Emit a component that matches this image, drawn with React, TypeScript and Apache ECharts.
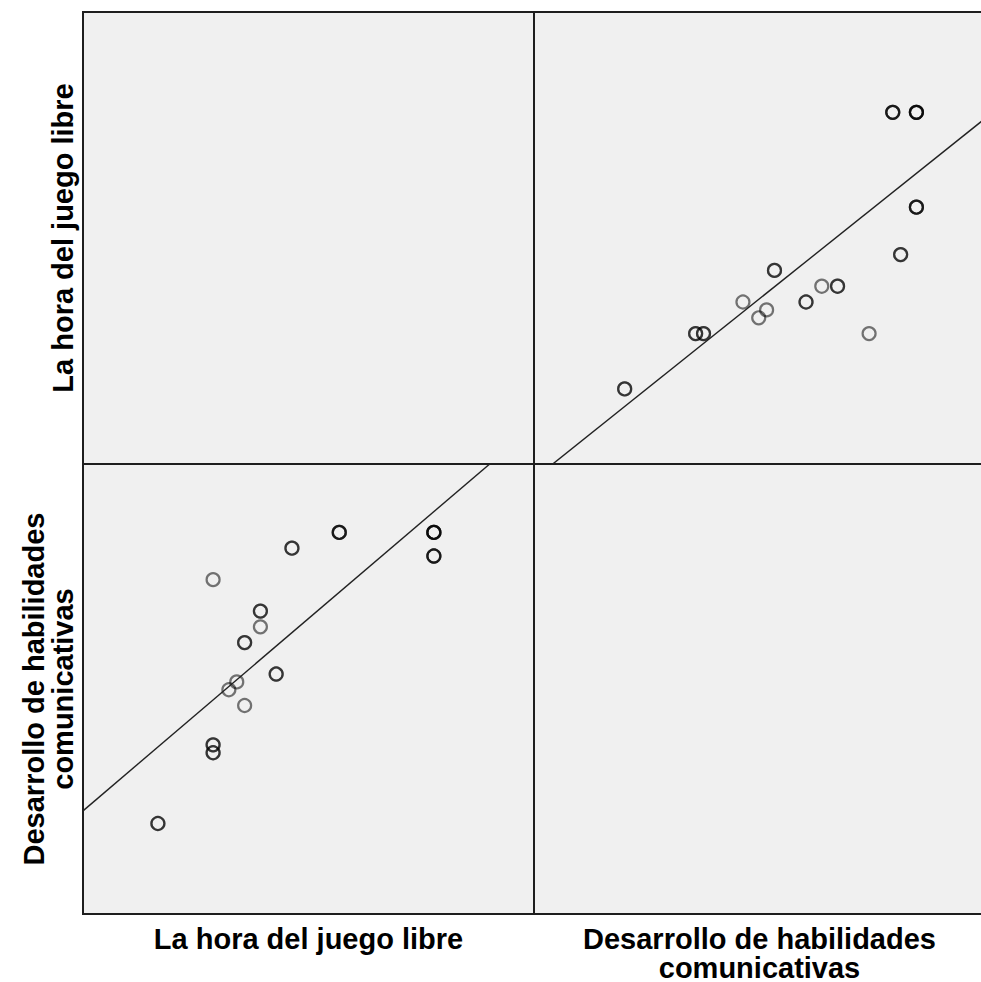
import React, { useEffect, useRef } from "react";
import * as echarts from "echarts";

// Variable names (axis titles)
const varLaHora = "La hora del juego libre";
const varDesarrollo = "Desarrollo de habilidades\ncomunicativas";

// Cases (paired values); darker circles in the picture are repeated cases
const laHora = [20, 20, 27, 27, 27, 27, 27, 31, 31, 33, 33, 33, 29, 30, 31, 35, 35, 37, 37, 43, 43, 43, 55, 55, 55, 55, 55, 55, 55];
const desarrollo = [20, 20, 30, 30, 29, 29, 51, 43, 43, 47, 47, 45, 37, 38, 35, 39, 39, 55, 55, 57, 57, 57, 57, 57, 57, 57, 54, 54, 54];

// Axis ranges
const laHoraRange = [10.5, 67.7];
const desarrolloRange = [8.5, 65.7];

function ols(x: number[], y: number[]) {
  const n = x.length;
  const mx = x.reduce((a, b) => a + b, 0) / n;
  const my = y.reduce((a, b) => a + b, 0) / n;
  let sxy = 0;
  let sxx = 0;
  for (let i = 0; i < n; i++) {
    sxy += (x[i] - mx) * (y[i] - my);
    sxx += (x[i] - mx) * (x[i] - mx);
  }
  const b = sxy / sxx;
  return { a: my - b * mx, b };
}

export default function App() {
  const ref = useRef<HTMLDivElement>(null);
  useEffect(() => {
    if (!ref.current) return;
    const chart = echarts.init(ref.current, undefined, { renderer: "svg" });

    const fitDonL = ols(laHora, desarrollo);
    const fitLonD = ols(desarrollo, laHora);
    const lineBL = [laHoraRange[0], laHoraRange[1]].map((v) => [v, fitDonL.a + fitDonL.b * v]);
    const lineTR = [desarrolloRange[0], desarrolloRange[1]].map((v) => [v, fitLonD.a + fitLonD.b * v]);

    const gridStyle = {
      show: true,
      backgroundColor: "#f0f0f0",
      borderColor: "#1e1e1e",
      borderWidth: 2,
      containLabel: false,
      outerBoundsMode: "none",
    };
    const font = {
      fontFamily: "Liberation Sans, Arial, sans-serif",
      fontWeight: "bold" as const,
      fontSize: 29,
      color: "#000",
      lineHeight: 29,
    };
    const hidden = {
      axisLine: { show: false },
      axisTick: { show: false },
      axisLabel: { show: false },
      splitLine: { show: false },
    };
    const xAx = (idx: number, range: number[], name?: string) => ({
      type: "value" as const,
      gridIndex: idx,
      min: range[0],
      max: range[1],
      name: name,
      nameLocation: "middle" as const,
      nameGap: 10,
      nameTextStyle: font,
      ...hidden,
    });
    const yAx = (idx: number, range: number[], name?: string) => ({
      type: "value" as const,
      gridIndex: idx,
      min: range[0],
      max: range[1],
      name: name,
      nameLocation: "middle" as const,
      nameRotate: 90,
      nameGap: 6,
      nameTextStyle: font,
      ...hidden,
    });

    const scatterStyle = {
      type: "scatter" as const,
      symbol: "circle",
      symbolSize: 13,
      itemStyle: {
        color: "rgba(0,0,0,0)",
        borderColor: "rgba(0,0,0,0.66)",
        borderWidth: 2.2,
      },
      emphasis: { disabled: true },
      z: 3,
    };
    const lineStyle = {
      type: "line" as const,
      showSymbol: false,
      clip: true,
      lineStyle: { color: "#222", width: 1.4 },
      emphasis: { disabled: true },
      z: 4,
    };

    chart.setOption({
      animation: false,
      backgroundColor: "#ffffff",
      grid: [
        { left: 83, top: 12, width: 451, height: 452, ...gridStyle },
        { left: 534, top: 12, width: 451, height: 452, ...gridStyle },
        { left: 83, top: 464, width: 451, height: 450, ...gridStyle },
        { left: 534, top: 464, width: 451, height: 450, ...gridStyle },
      ],
      xAxis: [
        xAx(0, laHoraRange),
        xAx(1, desarrolloRange),
        xAx(2, laHoraRange, varLaHora),
        xAx(3, desarrolloRange, varDesarrollo),
      ],
      yAxis: [
        yAx(0, laHoraRange, varLaHora),
        yAx(1, laHoraRange),
        yAx(2, desarrolloRange, varDesarrollo),
        yAx(3, desarrolloRange),
      ],
      series: [
        {
          ...scatterStyle,
          xAxisIndex: 1,
          yAxisIndex: 1,
          data: desarrollo.map((d, i) => [d, laHora[i]]),
        },
        {
          ...scatterStyle,
          xAxisIndex: 2,
          yAxisIndex: 2,
          data: laHora.map((l, i) => [l, desarrollo[i]]),
        },
        { ...lineStyle, xAxisIndex: 1, yAxisIndex: 1, data: lineTR },
        { ...lineStyle, xAxisIndex: 2, yAxisIndex: 2, data: lineBL },
      ],
    });
    return () => chart.dispose();
  }, []);

  return (
    <div
      style={{
        position: "fixed",
        left: 0,
        top: 0,
        width: 981,
        height: 982,
        overflow: "hidden",
        background: "#fff",
      }}
    >
      <div ref={ref} style={{ width: 990, height: 982 }} />
    </div>
  );
}
